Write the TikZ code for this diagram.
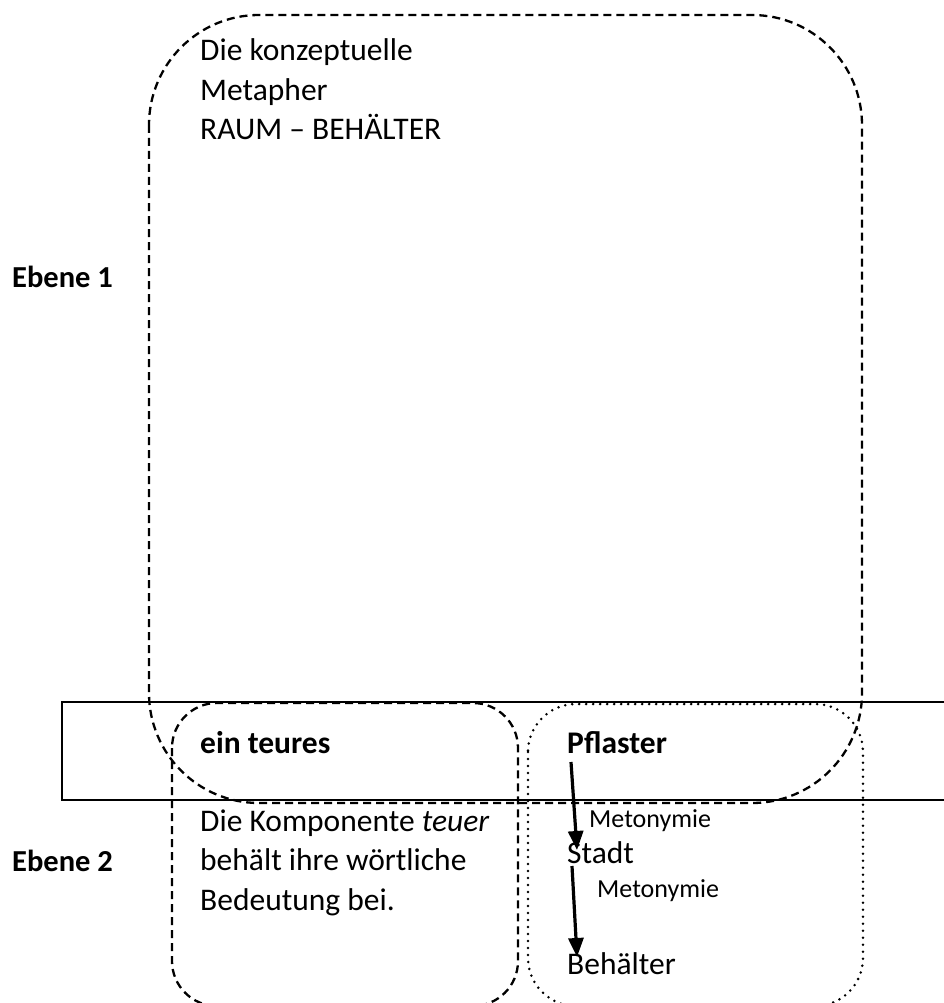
\documentclass[tikz,border=0pt]{standalone}
\usepackage{fontspec}
\setmainfont{Carlito}
\usetikzlibrary{arrows.meta}
\begin{document}
\begin{tikzpicture}[x=1pt,y=-1pt,
  dashbox/.style={draw,line width=2.3pt,dash pattern=on 8pt off 5pt},
  dotbox/.style={draw,line width=2.8pt,line cap=round,dash pattern=on 0pt off 7pt},
  body/.style={font=\fontsize{31.5}{39.5}\selectfont,inner sep=0pt,align=left},
  bbody/.style={font=\fontsize{31.5}{39.5}\selectfont\bfseries,inner sep=0pt},
  small/.style={font=\fontsize{26}{30}\selectfont,inner sep=0pt},
  lvl/.style={font=\fontsize{30.5}{36}\selectfont\bfseries,inner sep=0pt},
  arr/.style={line width=3.2pt,-{Triangle[width=15pt,length=19pt]}}]
\useasboundingbox (0,0) rectangle (944,1003);
% level band
\draw[line width=2.2pt] (960,702) -- (62,702) -- (62,800) -- (960,800);
% boxes
\draw[dashbox,rounded corners=110pt] (149,15) rectangle (862,803);
\draw[dashbox,rounded corners=45pt] (172,703) rectangle (518,1006);
\draw[dotbox,rounded corners=48pt] (528,704) rectangle (863,1006);
% texts
\node[body,anchor=base west] (meta) at (200,140) {Die konzeptuelle\\Metapher\\RAUM – BEHÄLTER};
\node[lvl,anchor=base west] (e1) at (12,287) {Ebene 1};
\node[lvl,anchor=base west] (e2) at (12,871) {Ebene 2};
\node[bbody,anchor=base west] (ein) at (200,753) {ein teures};
\node[bbody,anchor=base west] (pfl) at (567,753) {Pflaster};
\node[body,anchor=base west] (komp) at (200,910) {Die Komponente \textit{teuer}\\behält ihre wörtliche\\Bedeutung bei.};
\node[small,anchor=base west] (m1) at (589,827) {Metonymie};
\node[body,anchor=base west] (stadt) at (567,863) {Stadt};
\node[small,anchor=base west] (m2) at (597,897) {Metonymie};
\node[body,anchor=base west] (beh) at (567,974) {Behälter};
% arrows
\coordinate (a1s) at (571,762);
\coordinate (a1e) at (577,850);
\coordinate (a2s) at (572,866);
\coordinate (a2e) at (577,957);
\draw[arr] (a1s) -- (a1e);
\draw[arr] (a2s) -- (a2e);
\end{tikzpicture}
\end{document}
